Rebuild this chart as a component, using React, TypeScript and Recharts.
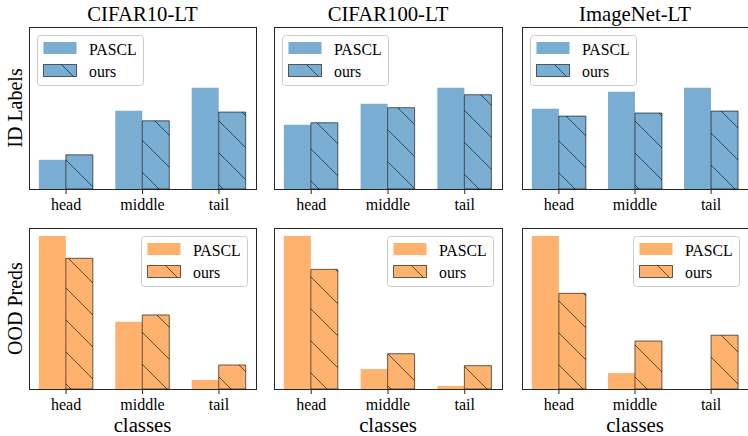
import React from 'react';
import { BarChart, Bar, XAxis, YAxis, Legend } from 'recharts';

const classes = ['head', 'middle', 'tail'];
const datasets = ['CIFAR10-LT', 'CIFAR100-LT', 'ImageNet-LT'];
const rowLabels = ['ID Labels', 'OOD Preds'];
const seriesNames = ['PASCL', 'ours'];

// bar heights as % of each panel's y range (no y ticks in the figure)
const idCifar10Pascl = [18.0, 48.3, 62.5];
const idCifar10Ours = [21.1, 42.1, 47.5];
const idCifar100Pascl = [39.6, 52.6, 62.5];
const idCifar100Ours = [40.9, 50.2, 58.2];
const idImagenetPascl = [49.5, 60.1, 62.5];
const idImagenetOurs = [45.0, 46.9, 48.1];
const oodCifar10Pascl = [95.0, 41.8, 5.6];
const oodCifar10Ours = [81.2, 46.0, 14.9];
const oodCifar100Pascl = [95.0, 12.4, 1.9];
const oodCifar100Ours = [74.3, 21.9, 14.5];
const oodImagenetPascl = [95.0, 9.9, 0];
const oodImagenetOurs = [59.4, 29.8, 33.4];

const FONT = '"Liberation Serif", "Times New Roman", "DejaVu Serif", serif';
const BLUE = '#79add2';
const ORANGE = '#ffb26e';
const SPINE = '#262626';

const colLeft = [29, 274, 522];
const colWidth = [227, 228, 226];
const rowTop = [27, 228];
const rowHeight = [162, 161];

const makeRows = (pascl: number[], ours: number[]) =>
  classes.map((name, i) => ({ x: i, name, pascl: pascl[i], ours: ours[i] }));

const panels = [
  { row: 0, col: 0, data: makeRows(idCifar10Pascl, idCifar10Ours) },
  { row: 0, col: 1, data: makeRows(idCifar100Pascl, idCifar100Ours) },
  { row: 0, col: 2, data: makeRows(idImagenetPascl, idImagenetOurs) },
  { row: 1, col: 0, data: makeRows(oodCifar10Pascl, oodCifar10Ours) },
  { row: 1, col: 1, data: makeRows(oodCifar100Pascl, oodCifar100Ours) },
  { row: 1, col: 2, data: makeRows(oodImagenetPascl, oodImagenetOurs) },
];

const mod = (a: number, n: number) => ((a % n) + n) % n;

function Hatch({ id, color, y }: { id: string; color: string; y: number }) {
  return (
    <pattern id={id} patternUnits="userSpaceOnUse" width={32} height={32} x={0} y={y}>
      <rect width={32} height={32} fill={color} />
      <path d="M0,0 L32,32 M-4,28 L4,36 M28,-4 L36,4" stroke="#000" strokeOpacity={0.6} strokeWidth={1} />
    </pattern>
  );
}

function LegendBox({ color, id }: { color: string; id: string }) {
  return (
    <svg width={107} height={51} style={{ display: 'block', fontFamily: FONT }}>
      <defs>
        <Hatch id={id} color={color} y={5} />
      </defs>
      <rect x={0.5} y={0.5} width={106} height={50} rx={3} fill="#fff" fillOpacity={0.8} stroke="#cccccc" />
      <rect x={6.5} y={7} width={33} height={12} fill={color} />
      <rect x={6.5} y={29.5} width={33} height={12} fill={`url(#${id})`} stroke="#000" strokeOpacity={0.6} />
      <text x={52} y={19.5} fontSize={15.8} fill="#000">{seriesNames[0]}</text>
      <text x={52} y={41.5} fontSize={15.8} fill="#000">{seriesNames[1]}</text>
    </svg>
  );
}

function Panel({ row, col, data }: { row: number; col: number; data: any[] }) {
  const L = colLeft[col];
  const T = rowTop[row];
  const W = colWidth[col];
  const H = rowHeight[row];
  const color = row === 0 ? BLUE : ORANGE;
  const key = `${row}-${col}`;
  const legendLeft = row === 0 ? 8 : W - 8 - 107;
  return (
    <>
      <div style={{ position: 'absolute', left: L, top: T }}>
        <BarChart width={W} height={H + 30} data={data} margin={{ top: 0, right: 0, bottom: 0, left: 0 }} barGap={0}>
          <defs>
            <Hatch id={`hatch-${key}`} color={color} y={mod(-2 - T + L, 32)} />
          </defs>
          <XAxis
            type="number"
            dataKey="x"
            domain={[-0.485, 2.485]}
            ticks={[0, 1, 2]}
            allowDataOverflow
            interval={0}
            axisLine={false}
            tickLine={{ stroke: SPINE }}
            tickSize={5}
            height={30}
            tick={(p: any) => (
              <text x={p.x} y={H + 20.5} textAnchor="middle" fontSize={16} fontFamily={FONT} fill="#000">
                {classes[p.payload.value]}
              </text>
            )}
          />
          <YAxis hide domain={[0, 100]} allowDataOverflow />
          <Bar dataKey="pascl" fill={color} barSize={27} isAnimationActive={false} />
          <Bar
            dataKey="ours"
            fill={`url(#hatch-${key})`}
            stroke="#000"
            strokeOpacity={0.6}
            strokeWidth={1}
            barSize={27}
            isAnimationActive={false}
          />
          <Legend
            layout="vertical"
            align="center"
            verticalAlign="middle"
            wrapperStyle={{ left: legendLeft, top: 8, width: 107, height: 51 }}
            content={() => <LegendBox color={color} id={`leg-${key}`} />}
          />
        </BarChart>
      </div>
      <div
        style={{
          position: 'absolute',
          left: L,
          top: T,
          width: W + 1,
          height: H + 1,
          boxSizing: 'border-box',
          border: `1px solid ${SPINE}`,
          pointerEvents: 'none',
        }}
      />
    </>
  );
}

export default function App() {
  const centers = colLeft.map((l, i) => l + colWidth[i] / 2);
  return (
    <div style={{ position: 'absolute', left: 0, top: 0, width: 748, height: 436, background: '#fff', overflow: 'hidden' }}>
      {panels.map((p) => (
        <Panel key={`${p.row}-${p.col}`} {...p} />
      ))}
      <svg
        width={748}
        height={436}
        style={{ position: 'absolute', left: 0, top: 0, pointerEvents: 'none', fontFamily: FONT }}
      >
        {datasets.map((d, i) => (
          <text key={d} x={centers[i]} y={20.5} textAnchor="middle" fontSize={20.7} fill="#000">
            {d}
          </text>
        ))}
        {datasets.map((d, i) => (
          <text key={`cls-${d}`} x={centers[i]} y={431.5} textAnchor="middle" fontSize={20.8} fill="#000">
            classes
          </text>
        ))}
        {rowLabels.map((r, i) => {
          const cy = rowTop[i] + rowHeight[i] / 2;
          return (
            <text
              key={r}
              x={21.5}
              y={cy}
              textAnchor="middle"
              fontSize={20}
              fill="#000"
              transform={`rotate(-90 21.5 ${cy})`}
            >
              {r}
            </text>
          );
        })}
      </svg>
    </div>
  );
}
